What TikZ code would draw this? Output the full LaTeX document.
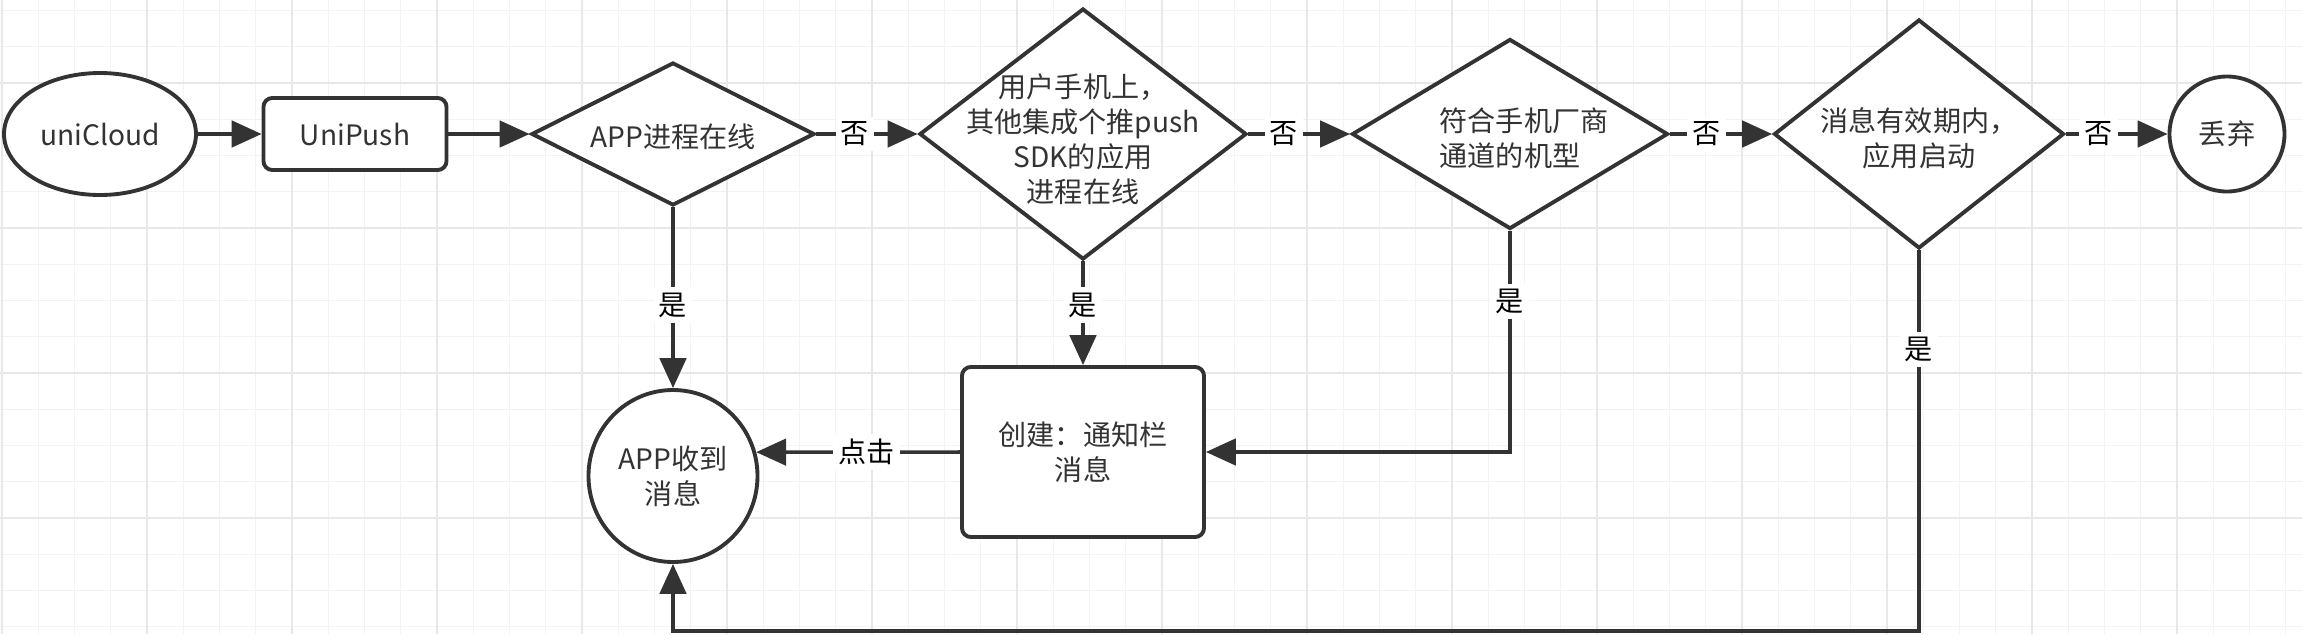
\documentclass[tikz,border=0pt]{standalone}
\usepackage{fontspec}
\setmainfont{Noto Sans CJK SC}
\usepackage{tikz}
\usetikzlibrary{arrows.meta,shapes.geometric}
\definecolor{ink}{HTML}{333333}
\definecolor{gridc}{HTML}{F3F3F3}
\definecolor{gridm}{HTML}{E8E8E8}

\begin{document}
\begin{tikzpicture}[
  >={Triangle[length=8.5pt,width=7.5pt]},
  font=\fontsize{8}{10}\selectfont,
  term/.style={ellipse, draw=ink, line width=1.1pt, fill=white, text=ink, align=center, inner sep=1pt},
  proc/.style={rounded corners=2.5pt, draw=ink, line width=1.1pt, fill=white, text=ink, align=center},
  decide/.style={diamond, draw=ink, line width=1.1pt, fill=white, inner sep=0pt},
  dtxt/.style={text=ink, align=center},
  flow/.style={->, line width=1pt, ink},
  lbl/.style={fill=white, text=black, inner sep=1.5pt},
]

% ---------- canvas and grid ----------
\fill[white] (0,0) rectangle (23.02,6.34);
\useasboundingbox (0,0) rectangle (23.02,6.34);
\foreach \x in {0,...,63} \draw[gridc, line width=0.4pt] ({0.02+0.3625*\x},0) -- ++(0,6.34);
\foreach \y in {0,...,17} \draw[gridc, line width=0.4pt] (0,{0.0725+0.3625*\y}) -- ++(23.02,0);
\foreach \x in {0,...,15} \draw[gridm, line width=0.6pt] ({0.02+1.45*\x},0) -- ++(0,6.34);
\foreach \y in {1.16,2.61,4.06,5.51} \draw[gridm, line width=0.6pt] (0,\y) -- ++(23.02,0);

% ---------- top row: push chain ----------
\def\ty{5.0}
\node[term, minimum width=1.92cm, minimum height=1.22cm] (cloud) at (1.00,\ty) {uniCloud};
\node[proc, minimum width=1.83cm, minimum height=0.72cm] (push) at (3.55,\ty) {UniPush};

\node[decide, minimum width=2.83cm, minimum height=1.43cm] (d1) at (6.73,\ty) {};
\node[dtxt] (d1t) at (6.73,\ty-0.03) {APP进程在线};

\node[decide, minimum width=3.27cm, minimum height=2.51cm] (d2) at (10.83,\ty) {};
\node[dtxt] (d2t) at (10.83,\ty-0.05) {用户手机上，\\其他集成个推push\\SDK的应用\\进程在线};

\node[decide, minimum width=3.16cm, minimum height=1.90cm] (d3) at (15.10,\ty) {};
\node[dtxt, align=left] (d3t) at (15.24,\ty-0.04) {符合手机厂商\\通道的机型};

\node[decide, minimum width=2.90cm, minimum height=2.29cm] (d4) at (19.19,\ty) {};
\node[dtxt] (d4t) at (19.19,\ty-0.04) {消息有效期内，\\应用启动};

\node[term, minimum size=1.15cm] (drop) at (22.27,\ty) {丢弃};

% ---------- bottom row: delivery ----------
\node[term, minimum width=1.69cm, minimum height=1.72cm] (recv) at (6.73,1.58) {APP收到\\消息};
\node[proc, minimum width=2.42cm, minimum height=1.70cm] (note) at (10.83,1.82) {创建：通知栏\\消息};
\coordinate (base) at (0,0.03);

% ---------- connectors ----------
\draw[flow] (cloud) -- (push);
\draw[flow] (push) -- (d1);
\draw[flow] (d1) -- node[lbl, pos=0.38] {否} (d2);
\draw[flow] (d2) -- node[lbl, pos=0.35] {否} (d3);
\draw[flow] (d3) -- node[lbl, pos=0.36] {否} (d4);
\draw[flow] (d4) -- node[lbl, pos=0.32] {否} (drop);

\draw[flow] (d1) -- node[lbl, pos=0.54] {是} (recv);
\draw[flow] (d2) -- node[lbl, pos=0.42] {是} (note);
\draw[flow] (d3.south) |- node[lbl, pos=0.16] {是} (note.east);
\draw[flow] (d4.south) -- node[lbl, pos=0.26] {是} (d4.south |- base) -| (recv.south);
\draw[flow] (note.west) -- node[lbl, pos=0.46] {点击} (recv.16.5);

\end{tikzpicture}
\end{document}
